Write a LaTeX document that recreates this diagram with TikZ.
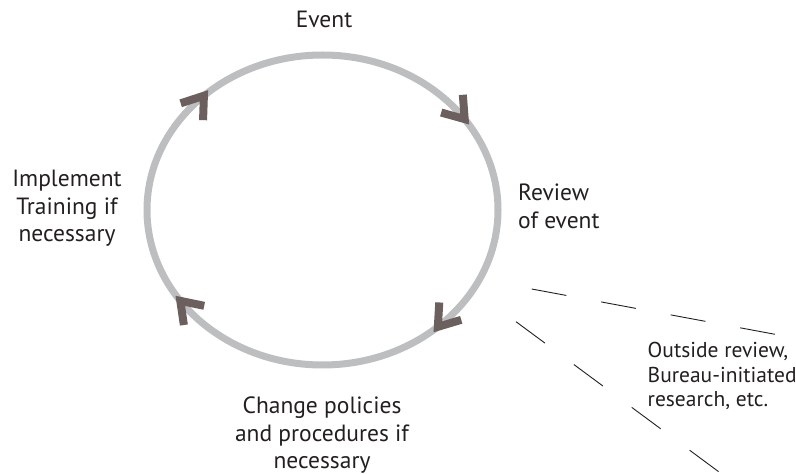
\documentclass[tikz,border=0pt]{standalone}
\usepackage{fontspec}
\setmainfont{PT Sans}
\usetikzlibrary{calc,decorations.markings}
\definecolor{ringgrey}{HTML}{BCBEC0}
\definecolor{tipbrown}{HTML}{6B605D}
\definecolor{inkblack}{HTML}{231F20}

\begin{document}
\begin{tikzpicture}[x=1pt,y=1pt,
  every node/.style={text=inkblack,inner sep=0pt,font=\fontsize{23.5}{27.5}\selectfont},
  ring/.style={draw=ringgrey,line width=7pt},
  chevron/.style={draw=tipbrown,line width=8pt,miter limit=10},
  gap/.style={draw=inkblack,line width=0.9pt,dash pattern=on 35.3pt off 35.4pt}]
\useasboundingbox (0,0) rectangle (796,474);
\coordinate (hub) at (322.5,264);
\node[anchor=base] at (324,446) (event) {Event};
\node[anchor=base west,align=left] at (518,245.7) (review) {Review\\of event};
\node[anchor=base,align=center] at (322,5) (change) {Change policies\\and procedures if\\necessary};
\node[anchor=base,align=center] at (67,232) (impl) {Implement\\Training if\\necessary};
\node[anchor=base west,align=left,font=\fontsize{21.5}{24.5}\selectfont] at (647.5,67) (outside) {Outside review,\\Bureau-initiated\\research, etc.};
\draw[ring,postaction={decorate},decoration={markings,
  mark=at position 0.131 with {\draw[chevron,rotate=14] (-20,14) -- (0,0) -- (-20,-14);},
  mark=at position 0.405 with {\draw[chevron,rotate=4] (-20,14) -- (0,0) -- (-20,-14);},
  mark=at position 0.627 with {\draw[chevron,rotate=14] (-20,14) -- (0,0) -- (-20,-14);},
  mark=at position 0.905 with {\draw[chevron] (-20,14) -- (0,0) -- (-20,-14);}}]
  ($(hub)+(175.5,0)$) arc[start angle=360,end angle=0,x radius=175.5,y radius=155];
\coordinate (u1) at (531.7,185);
\coordinate (u2) at (775,139.7);
\coordinate (l1) at (516,152.3);
\coordinate (l2) at (720,1.3);
\draw[gap] (u1) -- (u2);
\draw[gap,dash pattern=on 36pt off 36pt] (l1) -- (l2);
\end{tikzpicture}
\end{document}
